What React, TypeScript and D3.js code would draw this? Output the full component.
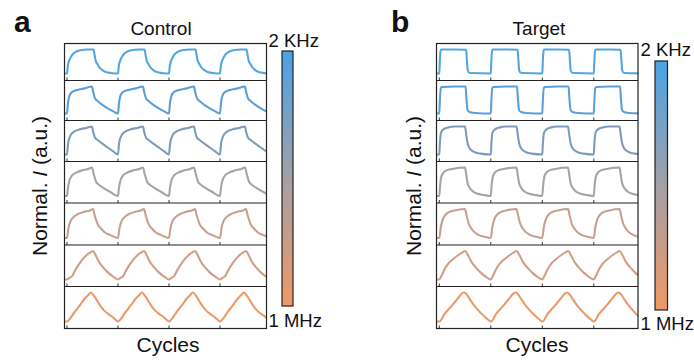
import React from "react";
import * as d3 from "d3";

// One period of each normalized response, as [phase, value] pairs (phase 0..1, value 0..1).
// Rows go from 2 KHz (top) to 1 MHz (bottom).
const controlShapes: [number, number][][] = [
  [[0,0],[0.015,0.3],[0.04,0.52],[0.08,0.7],[0.12,0.82],[0.17,0.9],[0.27,0.97],[0.4,1],[0.52,1],[0.54,0.78],[0.56,0.55],[0.6,0.38],[0.63,0.27],[0.68,0.16],[0.72,0.1],[0.8,0.04],[0.9,0.01],[1,0]],
  [[0,0],[0.02,0.4],[0.04,0.6],[0.07,0.74],[0.12,0.82],[0.2,0.87],[0.35,0.93],[0.49,1],[0.51,0.82],[0.55,0.56],[0.6,0.46],[0.7,0.31],[0.8,0.19],[0.9,0.09],[1,0]],
  [[0,0],[0.02,0.38],[0.05,0.6],[0.08,0.72],[0.14,0.82],[0.25,0.9],[0.38,0.95],[0.49,1],[0.51,0.83],[0.55,0.6],[0.6,0.52],[0.7,0.38],[0.8,0.25],[0.9,0.12],[1,0]],
  [[0,0],[0.02,0.3],[0.05,0.55],[0.1,0.72],[0.18,0.82],[0.3,0.9],[0.42,0.95],[0.49,1],[0.52,0.8],[0.57,0.5],[0.62,0.4],[0.72,0.28],[0.85,0.14],[1,0]],
  [[0,0],[0.03,0.35],[0.07,0.58],[0.13,0.72],[0.22,0.83],[0.33,0.9],[0.45,0.95],[0.51,1],[0.54,0.8],[0.6,0.48],[0.67,0.32],[0.75,0.18],[0.85,0.1],[1,0]],
  [[0,0],[0.05,0.06],[0.1,0.12],[0.16,0.32],[0.23,0.52],[0.3,0.7],[0.36,0.82],[0.44,0.93],[0.51,1],[0.56,0.86],[0.62,0.64],[0.7,0.44],[0.8,0.25],[0.92,0.08],[1,0]],
  [[0,0],[0.07,0.12],[0.13,0.28],[0.2,0.44],[0.27,0.6],[0.33,0.75],[0.41,0.9],[0.47,1],[0.53,0.88],[0.6,0.69],[0.66,0.52],[0.73,0.375],[0.8,0.27],[0.87,0.19],[0.94,0.08],[1,0]],
];

const targetShapes: [number, number][][] = [
  [[0,0],[0.01,0.5],[0.025,0.95],[0.04,1],[0.3,1],[0.52,0.99],[0.535,0.6],[0.55,0.15],[0.57,0.05],[0.62,0.02],[1,0]],
  [[0,0],[0.01,0.45],[0.03,0.95],[0.06,0.98],[0.3,1],[0.51,1],[0.525,0.6],[0.55,0.12],[0.6,0.05],[0.7,0.02],[1,0]],
  [[0,0],[0.01,0.35],[0.03,0.75],[0.06,0.86],[0.1,0.92],[0.16,0.96],[0.3,1],[0.5,1],[0.52,0.75],[0.55,0.4],[0.58,0.25],[0.63,0.14],[0.7,0.07],[0.8,0.03],[1,0]],
  [[0,0],[0.015,0.35],[0.04,0.68],[0.08,0.82],[0.14,0.9],[0.25,0.95],[0.5,1],[0.52,0.78],[0.55,0.45],[0.6,0.26],[0.66,0.15],[0.75,0.08],[0.88,0.03],[1,0]],
  [[0,0],[0.03,0.38],[0.07,0.65],[0.13,0.82],[0.2,0.9],[0.3,0.95],[0.5,1],[0.53,0.78],[0.57,0.5],[0.62,0.33],[0.67,0.22],[0.77,0.1],[0.88,0.04],[1,0]],
  [[0,0],[0.04,0.12],[0.1,0.35],[0.17,0.55],[0.27,0.72],[0.37,0.86],[0.45,0.95],[0.5,1],[0.56,0.84],[0.63,0.6],[0.72,0.4],[0.8,0.25],[0.9,0.1],[1,0]],
  [[0,0],[0.04,0.06],[0.08,0.2],[0.16,0.38],[0.27,0.6],[0.36,0.8],[0.42,0.93],[0.47,1],[0.52,0.96],[0.58,0.8],[0.65,0.62],[0.74,0.42],[0.86,0.2],[0.95,0.06],[1,0]],
];

const rowColors = ["#52a6e0", "#5b9fd8", "#7f9bbb", "#a7a3a8", "#c6a090", "#d29f86", "#eb9a6a"];
const cycleTicks = [0, 1, 2, 3];
const cycleCount = 4;
const barStops = [
  { offset: 0, color: "#4aa2e6" },
  { offset: 0.5, color: "#a3a0a6" },
  { offset: 1, color: "#ef9866" },
];
const barLabels = ["2 KHz", "1 MHz"];

const FONT = "'Liberation Sans', Arial, Helvetica, sans-serif";
const W = 694;
const H = 361;
const rowEdges = [43.5, 80.5, 120.5, 161.5, 203, 245, 286.5, 328.5];

interface PanelProps {
  id: string;
  letter: string;
  letterX: number;
  title: string;
  titleX: number;
  left: number;
  right: number;
  firstTick: number;
  period: number;
  shapes: [number, number][][];
  bar: { x: number; y: number; w: number; h: number };
  topLabelY: number;
  bottomLabelY: number;
  labelX: number;
  yLabelX: number;
  cyclesX: number;
}

// Repeat one period across all cycles, starting just left of the first cycle.
function tile(shape: [number, number][], start: number): [number, number][] {
  const pts: [number, number][] = [[start, shape[shape.length - 1][1]]];
  for (let c = 0; c < cycleCount; c++) {
    shape.forEach(([p, v], i) => {
      if (c > 0 && i === 0) return;
      pts.push([c + p, v]);
    });
  }
  return pts;
}

function Panel(props: PanelProps) {
  const { left, right, firstTick, period, shapes, bar } = props;
  const x0 = -(firstTick - left) / period;
  const x1 = x0 + (right - left) / period;
  const x = d3.scaleLinear().domain([x0, x1]).range([left, right]);
  const gradId = `grad-${props.id}`;
  const top = rowEdges[0];
  const bottom = rowEdges[rowEdges.length - 1];

  return (
    <g>
      <defs>
        <linearGradient id={gradId} x1="0" y1="0" x2="0" y2="1">
          {barStops.map((s) => (
            <stop key={s.offset} offset={s.offset} stopColor={s.color} />
          ))}
        </linearGradient>
        {shapes.map((_, i) => (
          <clipPath id={`clip-${props.id}-${i}`} key={i}>
            <rect x={left} y={rowEdges[i]} width={right - left} height={rowEdges[i + 1] - rowEdges[i]} />
          </clipPath>
        ))}
      </defs>

      {shapes.map((shape, i) => {
        const t = rowEdges[i];
        const b = rowEdges[i + 1];
        const y = d3.scaleLinear().domain([0, 1]).range([b - 7, t + 6]);
        const line = d3
          .line<[number, number]>()
          .x((d) => x(d[0]))
          .y((d) => y(d[1]))
          .curve(d3.curveMonotoneX);
        return (
          <g key={i}>
            <path
              d={line(tile(shape, x0)) || ""}
              fill="none"
              stroke={rowColors[i]}
              strokeWidth={2.1}
              strokeLinejoin="round"
              clipPath={`url(#clip-${props.id}-${i})`}
            />
            {cycleTicks.map((c) => (
              <line key={c} x1={x(c)} x2={x(c)} y1={b} y2={b - 3} stroke="#333" strokeWidth={1} />
            ))}
            {i > 0 && <line x1={left} x2={right} y1={t} y2={t} stroke="#222" strokeWidth={1.2} />}
          </g>
        );
      })}

      <rect x={left} y={top} width={right - left} height={bottom - top} fill="none" stroke="#222" strokeWidth={1.2} />

      <rect x={bar.x} y={bar.y} width={bar.w} height={bar.h} fill={`url(#${gradId})`} stroke="#222" strokeWidth={1.2} />
      <text x={props.labelX} y={props.topLabelY} fontFamily={FONT} fontSize={18.5} fill="#111">{barLabels[0]}</text>
      <text x={props.labelX} y={props.bottomLabelY} fontFamily={FONT} fontSize={18.5} fill="#111">{barLabels[1]}</text>

      <text x={props.letterX} y={32} fontFamily={FONT} fontSize={30} fontWeight="bold" fill="#111">{props.letter}</text>
      <text x={props.titleX} y={35} textAnchor="middle" fontFamily={FONT} fontSize={19} fill="#111">{props.title}</text>
      <text x={props.cyclesX} y={351.5} textAnchor="middle" fontFamily={FONT} fontSize={21} fill="#111">Cycles</text>
      <text
        transform={`translate(${props.yLabelX},186) rotate(-90)`}
        textAnchor="middle"
        fontFamily={FONT}
        fontSize={21}
        fill="#111"
      >
        Normal. <tspan fontStyle="italic">I</tspan> (a.u.)
      </text>
    </g>
  );
}

export default function App() {
  return (
    <svg
      width={W}
      height={H}
      viewBox={`0 0 ${W} ${H}`}
      style={{ position: "absolute", left: 0, top: 0, background: "#fff", display: "block" }}
    >
      <rect width={W} height={H} fill="#fff" />
      <Panel
        id="a"
        letter="a"
        letterX={14}
        title="Control"
        titleX={161}
        left={64.5}
        right={266.5}
        firstTick={67}
        period={51}
        shapes={controlShapes}
        bar={{ x: 282, y: 51, w: 11, h: 255 }}
        topLabelY={47}
        bottomLabelY={327}
        labelX={268.5}
        yLabelX={47}
        cyclesX={168}
      />
      <Panel
        id="b"
        letter="b"
        letterX={391}
        title="Target"
        titleX={539}
        left={436.5}
        right={638}
        firstTick={439.3}
        period={51.5}
        shapes={targetShapes}
        bar={{ x: 655, y: 61, w: 12.5, h: 249 }}
        topLabelY={55.5}
        bottomLabelY={330}
        labelX={640.5}
        yLabelX={421}
        cyclesX={537}
      />
    </svg>
  );
}
